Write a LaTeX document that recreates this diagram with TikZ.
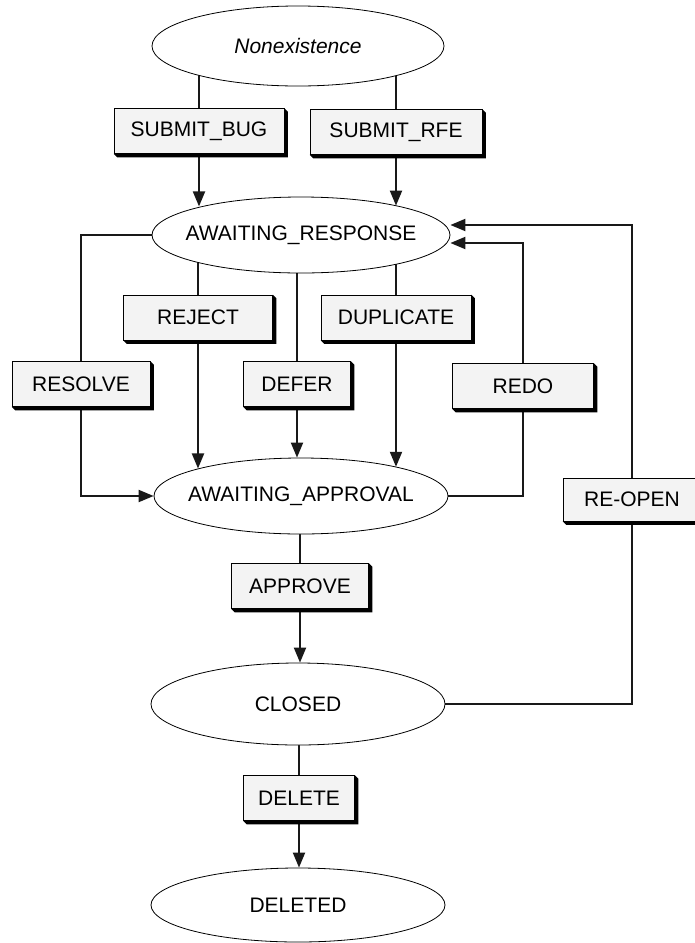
\documentclass[tikz,border=0pt]{standalone}
\usepackage{fontspec}
\setmainfont{Liberation Sans}
\usetikzlibrary{arrows.meta,backgrounds,shapes.geometric}
\definecolor{facegray}{RGB}{243,243,243}
\definecolor{wire}{RGB}{25,25,25}
\begin{document}
\begin{tikzpicture}[x=1pt,y=-1pt,
  font=\fontsize{21}{25}\selectfont,
  state/.style={ellipse, draw=black, line width=0.8pt, fill=white,
    inner xsep=-70pt, inner ysep=0pt},
  btn/.style={rectangle, draw=black, line width=0.7pt, fill=facegray,
    inner sep=0pt, minimum height=45pt},
  wireline/.style={draw=wire, line width=2pt},
  arr/.style={wireline, -{Triangle[length=15pt,width=12pt]}}]
\useasboundingbox (0,0) rectangle (695,943);
\clip (0,0) rectangle (695,943);

% states
\node[state, minimum width=292pt, minimum height=80pt] (ne) at (298,46) {\itshape Nonexistence};
\node[state, minimum width=298pt, minimum height=76pt] (ar) at (301,235) {AWAITING\_RESPONSE};
\node[state, minimum width=294pt, minimum height=76pt] (aa) at (301,496) {AWAITING\_APPROVAL};
\node[state, minimum width=294pt, minimum height=82pt] (cl) at (298,704) {CLOSED};
\node[state, minimum width=294pt, minimum height=74pt] (dd) at (298,905) {DELETED};

% transitions
\node[btn, minimum width=170pt] (bug)  at (199,131)   {SUBMIT\_BUG};
\node[btn, minimum width=172pt] (rfe)  at (396,132)   {SUBMIT\_RFE};
\node[btn, minimum width=149pt] (rej)  at (198,317.5) {REJECT};
\node[btn, minimum width=150pt] (dup)  at (396,317.5) {DUPLICATE};
\node[btn, minimum width=107pt] (def)  at (297,384)   {DEFER};
\node[btn, minimum width=138pt] (res)  at (81,384)    {RESOLVE};
\node[btn, minimum width=141pt] (redo) at (523,386)   {REDO};
\node[btn, minimum width=138pt, minimum height=43pt] (reo) at (632,499.5) {RE-OPEN};
\node[btn, minimum width=137pt] (app)  at (300,586)   {APPROVE};
\node[btn, minimum width=111pt] (del)  at (299,798)   {DELETE};

% bevel shadow on the right and bottom of each button
\foreach \b in {bug,rfe,rej,dup,def,res,redo,reo,app,del}
  \fill[black] (\b.north east) -- ([shift={(3.5,3.5)}]\b.north east)
    -- ([shift={(3.5,3.5)}]\b.south east) -- ([shift={(3.5,3.5)}]\b.south west)
    -- (\b.south west) -- (\b.south east) -- cycle;

% connectors
\begin{scope}[on background layer]
  \draw[wireline] (bug.north) -- (bug.north |- ne.center);
  \draw[arr] (bug.south) -- (bug.south |- ar.164.5);
  \draw[wireline] (rfe.north) -- (rfe.north |- ne.center);
  \draw[arr] (rfe.south) -- (rfe.south |- ar.17.1);

  \draw[wireline] (rej.north) -- (rej.north |- ar.center);
  \draw[arr] (rej.south) -- (rej.south |- aa.165);
  \draw[wireline] (def.north) -- (def.north |- ar.center);
  \draw[arr] (def.south) -- (def.south |- aa.north);
  \draw[wireline] (dup.north) -- (dup.north |- ar.center);
  \draw[arr] (dup.south) -- (dup.south |- aa.17);

  \draw[arr] (ar.west) -| (res.center) |- (aa.west);
  \draw[arr] (aa.east) -| (redo.center) |- ([yshift=-8pt]ar.east);
  \draw[arr] (cl.east) -| (reo.center) |- ([yshift=10pt]ar.east);

  \draw[wireline] (app.north) -- (app.north |- aa.center);
  \draw[arr] (app.south) -- (app.south |- cl.north);
  \draw[wireline] (del.north) -- (del.north |- cl.center);
  \draw[arr] (del.south) -- (del.south |- dd.north);
\end{scope}
\end{tikzpicture}
\end{document}
